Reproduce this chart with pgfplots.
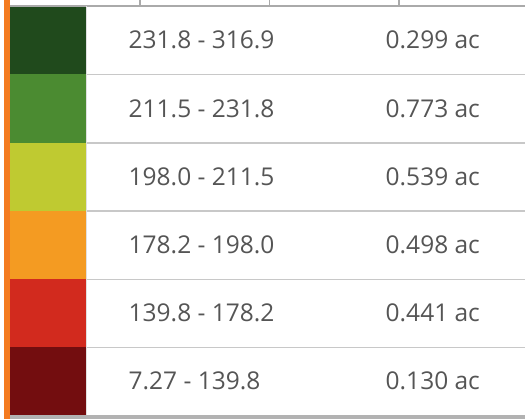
\documentclass[border=0pt]{standalone}
\usepackage{pgfplots}
\pgfplotsset{compat=1.18}
\usepackage{pgfplotstable}
\usepackage{fontspec}
\setmainfont{Open Sans}
\definecolor{c1}{HTML}{204A1C}
\definecolor{c2}{HTML}{4B8B31}
\definecolor{c3}{HTML}{BFCA31}
\definecolor{c4}{HTML}{F49B22}
\definecolor{c5}{HTML}{D22A1E}
\definecolor{c6}{HTML}{730D0F}
\definecolor{obar}{HTML}{F47B20}
\definecolor{txt}{HTML}{555555}
\definecolor{sep}{HTML}{C8C8C8}
\pgfplotstableread[col sep=comma]{
x,y,label
128.5,40.2,231.8 - 316.9
128.5,108.4,211.5 - 231.8
128.5,176.5,198.0 - 211.5
128.5,244.5,178.2 - 198.0
128.5,312.6,139.8 - 178.2
128.5,380.6,7.27 - 139.8
}\rangetab
\pgfplotstableread[col sep=comma]{
x,y,label
385.5,40.2,0.299 ac
385.5,108.4,0.773 ac
385.5,176.5,0.539 ac
385.5,244.5,0.498 ac
385.5,312.6,0.441 ac
385.5,380.6,0.130 ac
}\areatab
\begin{document}
\begin{tikzpicture}
\begin{axis}[
  scale only axis, width=525bp, height=419bp,
  xmin=0, xmax=525, ymin=0, ymax=419, y dir=reverse,
  hide axis, clip=true,
]
% swatches
\addplot[fill=c1, draw=none] coordinates {(10,6) (86,6) (86,74.3) (10,74.3)} --cycle;
\addplot[fill=c2, draw=none] coordinates {(10,74.3) (86,74.3) (86,142.5) (10,142.5)} --cycle;
\addplot[fill=c3, draw=none] coordinates {(10,142.5) (86,142.5) (86,210.5) (10,210.5)} --cycle;
\addplot[fill=c4, draw=none] coordinates {(10,210.5) (86,210.5) (86,278.5) (10,278.5)} --cycle;
\addplot[fill=c5, draw=none] coordinates {(10,278.5) (86,278.5) (86,347) (10,347)} --cycle;
\addplot[fill=c6, draw=none] coordinates {(10,347) (86,347) (86,415) (10,415)} --cycle;
% left orange bar
\addplot[fill=obar, draw=none] coordinates {(4,0) (10,0) (10,419) (4,419)} --cycle;
% row separators
\addplot[sep, line width=1.1bp] coordinates {(86,74.8) (525,74.8)};
\addplot[sep, line width=1.1bp] coordinates {(86,143) (525,143)};
\addplot[sep, line width=1.1bp] coordinates {(86,211) (525,211)};
\addplot[sep, line width=1.1bp] coordinates {(86,279.5) (525,279.5)};
\addplot[sep, line width=1.1bp] coordinates {(86,347.7) (525,347.7)};
% top line and ticks
\addplot[sep!85!black, line width=1.5bp] coordinates {(10,6) (525,6)};
\addplot[sep!85!black, line width=1.2bp] coordinates {(140,0) (140,6)};
\addplot[sep!85!black, line width=1.2bp] coordinates {(269.5,0) (269.5,6)};
\addplot[sep!85!black, line width=1.2bp] coordinates {(399,0) (399,6)};
% bottom bar
\addplot[fill=black!30, draw=none] coordinates {(10,415) (525,415) (525,419) (10,419)} --cycle;
% swatch right edge
\addplot[black!12, line width=0.6bp] coordinates {(86,6) (86,415)};
% labels
\addplot[draw=none, mark=none, nodes near coords, point meta=explicit symbolic,
  every node near coord/.style={anchor=west, inner sep=0pt, text=txt, font=\fontsize{24.5bp}{28bp}\selectfont}]
  table[x=x, y=y, meta=label] {\rangetab};
\addplot[draw=none, mark=none, nodes near coords, point meta=explicit symbolic,
  every node near coord/.style={anchor=west, inner sep=0pt, text=txt, font=\fontsize{24.5bp}{28bp}\selectfont}]
  table[x=x, y=y, meta=label] {\areatab};
\end{axis}
\useasboundingbox (current axis.south west) rectangle (current axis.north east);
\end{tikzpicture}
\end{document}
